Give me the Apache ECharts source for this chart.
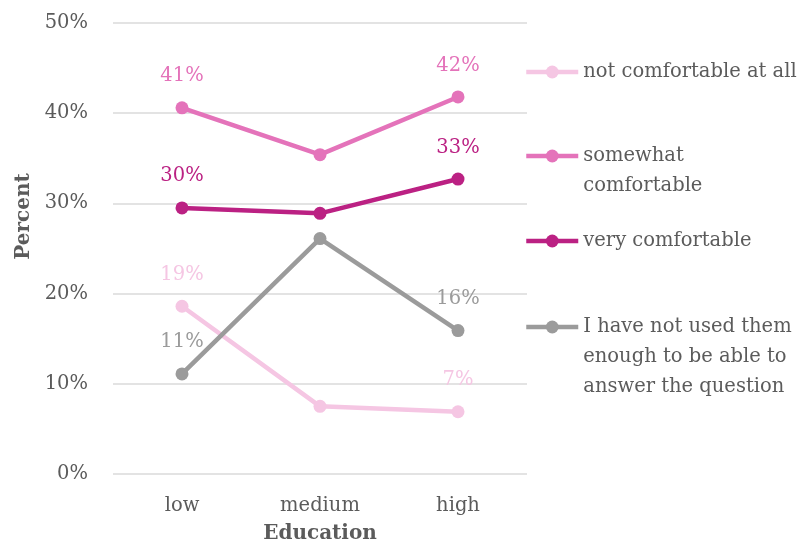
<!DOCTYPE html>
<html>
<head>
<meta charset="utf-8">
<script src="https://cdn.jsdelivr.net/npm/echarts@6/dist/echarts.min.js"></script>
<style>
  html, body { margin: 0; padding: 0; background: #ffffff; }
  #chart { width: 799px; height: 549px; }
</style>
</head>
<body>
<div id="chart"></div>
<script>
// Education levels on the x axis
const categories = ['low', 'medium', 'high'];

// Share of respondents (%) per comfort level
const notComfortable = [18.6, 7.5, 6.9];
const somewhatComfortable = [40.6, 35.4, 41.8];
const veryComfortable = [29.5, 28.9, 32.7];
const notUsedEnough = [11.1, 26.1, 15.9];

const yTicks = [0, 10, 20, 30, 40, 50];

const seriesNames = [
  'not comfortable at all',
  'somewhat comfortable',
  'very comfortable',
  'I have not used them enough to be able to answer the question'
];
const legendLines = {
  'not comfortable at all': ['not comfortable at all'],
  'somewhat comfortable': ['somewhat', 'comfortable'],
  'very comfortable': ['very comfortable'],
  'I have not used them enough to be able to answer the question':
    ['I have not used them', 'enough to be able to', 'answer the question']
};
const colors = ['#F5C6E3', '#E473BA', '#BB2183', '#9B9B9B'];
const seriesData = [notComfortable, somewhatComfortable, veryComfortable, notUsedEnough];

const FONT = 'DejaVu Serif';
const FS = 19.5;
const TEXT_GRAY = '#5b5b5b';
const LINE_H = 30;

function makeSeries(i) {
  return {
    name: seriesNames[i],
    type: 'line',
    data: seriesData[i].map((v, k) => ({
      value: v,
      label: { show: k !== 1 }
    })),
    color: colors[i],
    symbol: 'circle',
    symbolSize: 13,
    lineStyle: { width: 4.5, color: colors[i] },
    itemStyle: { color: colors[i] },
    label: {
      show: true,
      position: 'top',
      distance: 15,
      color: colors[i],
      fontFamily: FONT,
      fontSize: FS,
      formatter: p => Math.round(p.value) + '%'
    },
    emphasis: { disabled: true },
    animation: false
  };
}

// Legend text: blank lines on top keep the icon level with the first text line
function legendLabel(name) {
  const lines = legendLines[name];
  const pad = new Array(lines.length - 1).fill(' ');
  return pad.concat(lines).join('\n');
}

// One legend block per series
const legendTops = [57, 111, 226, 252];
const legends = seriesNames.map((name, i) => ({
  data: [name],
  orient: 'vertical',
  left: 524,
  top: legendTops[i],
  padding: 0,
  itemWidth: 52,
  itemHeight: 16,
  selectedMode: false,
  lineStyle: { width: 4.5 },
  formatter: legendLabel,
  textStyle: {
    fontFamily: FONT,
    fontSize: FS,
    color: TEXT_GRAY,
    lineHeight: LINE_H
  }
}));

const chart = echarts.init(document.getElementById('chart'), null, { renderer: 'canvas' });
chart.setOption({
  animation: false,
  backgroundColor: '#ffffff',
  grid: { left: 113, right: 272, top: 23, bottom: 74, containLabel: false },
  legend: legends,
  xAxis: {
    type: 'category',
    data: categories,
    name: 'Education',
    nameLocation: 'middle',
    nameGap: 50,
    nameTextStyle: { fontFamily: FONT, fontSize: 20, fontWeight: 'bold', color: TEXT_GRAY },
    axisLine: { show: false },
    axisTick: { show: false },
    axisLabel: { margin: 22, fontFamily: FONT, fontSize: FS, color: TEXT_GRAY }
  },
  yAxis: {
    type: 'value',
    min: yTicks[0],
    max: yTicks[yTicks.length - 1],
    interval: 10,
    name: 'Percent',
    nameLocation: 'middle',
    nameGap: 78,
    nameRotate: 90,
    nameTextStyle: {
      fontFamily: FONT, fontSize: 20, fontWeight: 'bold', color: TEXT_GRAY,
      padding: [0, 0, 0, 64]
    },
    axisLine: { show: false },
    axisTick: { show: false },
    splitLine: { lineStyle: { color: '#dadada', width: 1.5 } },
    axisLabel: { margin: 25, fontFamily: FONT, fontSize: FS, color: TEXT_GRAY, formatter: '{value}%' }
  },
  series: seriesNames.map((_, i) => makeSeries(i))
});
</script>
</body>
</html>
